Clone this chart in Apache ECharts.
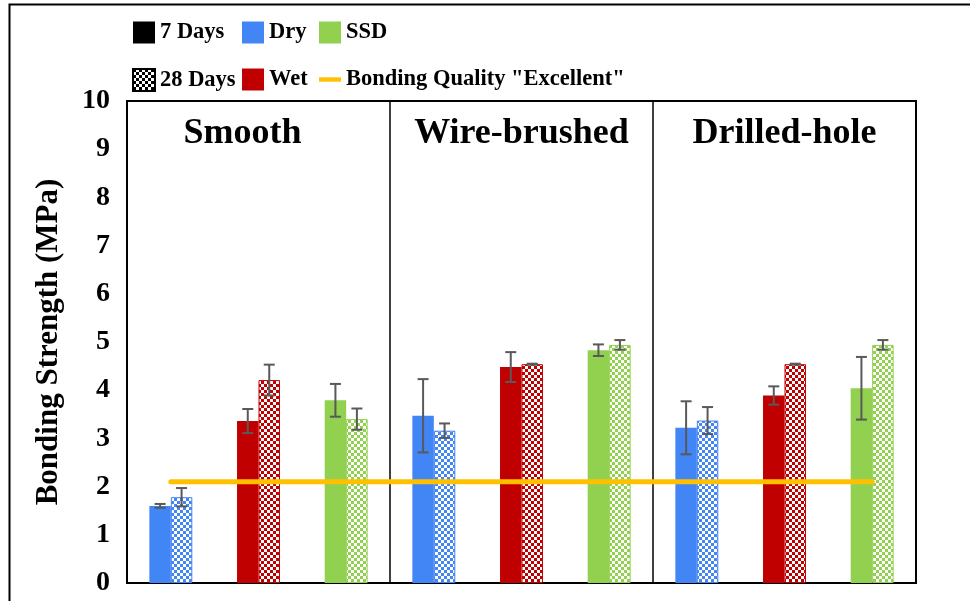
<!DOCTYPE html>
<html>
<head>
<meta charset="utf-8">
<script src="https://cdn.jsdelivr.net/npm/echarts@6/dist/echarts.min.js"></script>
<style>
  html, body { margin: 0; padding: 0; background: #fff; }
  #chart { width: 970px; height: 601px; }
</style>
</head>
<body>
<div id="chart"></div>
<script>
const groups = ["Smooth", "Wire-brushed", "Drilled-hole"];
const conditions = ["Dry", "Wet", "SSD"];
const categories = [
  "Smooth Dry", "Smooth Wet", "Smooth SSD",
  "Wire-brushed Dry", "Wire-brushed Wet", "Wire-brushed SSD",
  "Drilled-hole Dry", "Drilled-hole Wet", "Drilled-hole SSD",
];
const strength7 = [1.60, 3.36, 3.79, 3.47, 4.48, 4.83, 3.22, 3.89, 4.04];
const strength28 = [1.78, 4.21, 3.40, 3.16, 4.54, 4.94, 3.37, 4.54, 4.94];
const sd7 = [0.04, 0.25, 0.34, 0.76, 0.31, 0.12, 0.55, 0.19, 0.65];
const sd28 = [0.19, 0.32, 0.22, 0.15, 0.01, 0.10, 0.28, 0.01, 0.10];
const excellent = [2.1, 2.1, 2.1, 2.1, 2.1, 2.1, 2.1, 2.1, 2.1];
const yTicks = [0, 1, 2, 3, 4, 5, 6, 7, 8, 9, 10];

const COLORS = { Dry: "#4285F4", Wet: "#C00000", SSD: "#92D050" };
const FONT = "'Liberation Serif', 'Times New Roman', serif";
const BAR_SHARE = 0.245;
const LINE_NAME = 'Bonding Quality "Excellent"';

function checker(color) {
  const c = document.createElement("canvas");
  c.width = 6;
  c.height = 6;
  const ctx = c.getContext("2d");
  ctx.fillStyle = "#fff";
  ctx.fillRect(0, 0, 6, 6);
  ctx.fillStyle = color;
  ctx.fillRect(0, 0, 3, 3);
  ctx.fillRect(3, 3, 3, 3);
  return { image: c, repeat: "repeat" };
}

function conditionOf(i) {
  return conditions[i % conditions.length];
}

const bars7 = strength7.map((v, i) => ({
  value: v,
  itemStyle: { color: COLORS[conditionOf(i)] },
}));
const bars28 = strength28.map((v, i) => ({
  value: v,
  itemStyle: { color: checker(COLORS[conditionOf(i)]), borderColor: COLORS[conditionOf(i)], borderWidth: 1 },
}));

function errorData(values, sds, side) {
  return values.map((v, i) => [i, v - sds[i], v + sds[i], side]);
}

function renderError(params, api) {
  const idx = api.value(0);
  const lo = api.coord([idx, api.value(1)]);
  const hi = api.coord([idx, api.value(2)]);
  const bw = api.size([1, 0])[0] * BAR_SHARE;
  const x = lo[0] + api.value(3) * bw / 2;
  const cap = 5.5;
  const style = { stroke: "#595959", lineWidth: 2 };
  return {
    type: "group",
    children: [
      { type: "line", shape: { x1: x, y1: lo[1], x2: x, y2: hi[1] }, style },
      { type: "line", shape: { x1: x - cap, y1: lo[1], x2: x + cap, y2: lo[1] }, style },
      { type: "line", shape: { x1: x - cap, y1: hi[1], x2: x + cap, y2: hi[1] }, style },
    ],
  };
}

const legendBase = {
  orient: "vertical",
  top: 21,
  padding: 0,
  itemWidth: 22,
  itemHeight: 22,
  itemGap: 24,
  selectedMode: false,
  textStyle: { fontFamily: FONT, fontWeight: "bold", fontSize: 22.5, color: "#000", lineHeight: 22 },
};

const chart = echarts.init(document.getElementById("chart"), null, { renderer: "canvas" });

chart.setOption({
  animation: false,
  backgroundColor: "#fff",
  legend: [
    { ...legendBase, left: 132, data: [{ name: "7 Days", icon: "rect" }, { name: "28 Days", icon: "rect" }] },
    { ...legendBase, left: 242, data: [{ name: "Dry", icon: "rect" }, { name: "Wet", icon: "rect" }] },
    {
      ...legendBase, left: 319,
      data: [{ name: "SSD", icon: "rect" }, { name: LINE_NAME, icon: "path://M0,0H20V4H0Z" }],
    },
  ],
  grid: {
    left: 127, top: 101, width: 789, height: 482,
    show: true, borderColor: "#000", borderWidth: 2, backgroundColor: "transparent",
  },
  xAxis: [
    {
      type: "category",
      data: categories,
      axisLine: { lineStyle: { color: "#000", width: 2 } },
      axisTick: { show: false },
      axisLabel: { show: false },
    },
    {
      type: "category",
      position: "top",
      data: groups.map((g, i) => (i === 0 ? { value: g, textStyle: { padding: [0, 32, 0, 0] } } : g)),
      axisLine: { show: false },
      axisTick: { show: false },
      splitLine: { show: true, interval: 0, lineStyle: { color: "#000", width: 1.5 } },
      axisLabel: {
        inside: true, interval: 0, margin: 15, verticalAlign: "top",
        fontFamily: FONT, fontWeight: "bold", fontSize: 36, color: "#000",
      },
    },
  ],
  yAxis: {
    type: "value",
    min: yTicks[0],
    max: yTicks[yTicks.length - 1],
    interval: 1,
    name: "Bonding Strength (MPa)",
    nameLocation: "middle",
    nameGap: 63,
    nameTextStyle: { fontFamily: FONT, fontWeight: "bold", fontSize: 31, color: "#000" },
    axisLine: { show: false },
    axisTick: { show: false },
    splitLine: { show: false },
    axisLabel: { margin: 17, fontFamily: FONT, fontWeight: "bold", fontSize: 28, color: "#000" },
  },
  series: [
    {
      name: "7 Days", type: "bar", data: bars7,
      barWidth: (BAR_SHARE * 100) + "%", barGap: "0%",
      itemStyle: { color: "#000" }, z: 2,
    },
    {
      name: "28 Days", type: "bar", data: bars28,
      barWidth: (BAR_SHARE * 100) + "%", barGap: "0%",
      itemStyle: { color: checker("#000"), borderColor: "#000", borderWidth: 1 }, z: 2,
    },
    { name: "Dry", type: "scatter", data: [], itemStyle: { color: COLORS.Dry, opacity: 1 } },
    { name: "Wet", type: "scatter", data: [], itemStyle: { color: COLORS.Wet, opacity: 1 } },
    { name: "SSD", type: "scatter", data: [], itemStyle: { color: COLORS.SSD, opacity: 1 } },
    {
      name: LINE_NAME, type: "line", data: excellent,
      symbol: "none", symbolKeepAspect: true, z: 3,
      itemStyle: { color: "#FFC000" },
      lineStyle: { color: "#FFC000", width: 5, cap: "round" },
    },
    {
      type: "custom", renderItem: renderError, z: 4,
      data: errorData(strength7, sd7, -1).concat(errorData(strength28, sd28, 1)),
      encode: { x: 0, y: [1, 2] },
    },
  ],
  graphic: [
    {
      type: "rect", left: 7, top: 2, silent: true,
      shape: { width: 980, height: 620 },
      style: { fill: "none", stroke: "#000", lineWidth: 2 },
    },
  ],
});
</script>
</body>
</html>
